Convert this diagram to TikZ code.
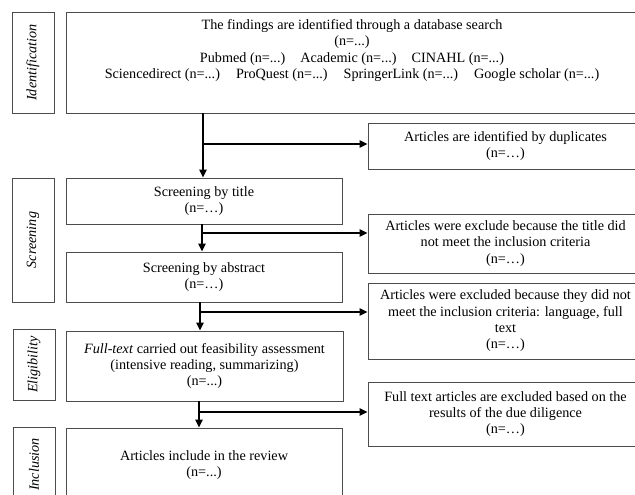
\documentclass[tikz,border=0pt]{standalone}
\usepackage{fontspec}
\setmainfont{Liberation Serif}
\usetikzlibrary{arrows.meta}

\tikzset{boite/.style = {draw = black!70, line width = 0.9pt, rectangle,
                         align = center, inner sep = 0pt,
                         font = \fontsize{14.2}{16.3}\selectfont},
         cote/.style  = {boite, rotate = 90,
                         font = \fontsize{14.2}{16.3}\selectfont\itshape},
         fleche/.style = {line width = 1.5pt, -{Triangle[length=8pt,width=7.5pt]}}
        }

\begin{document}
\begin{tikzpicture}[x=1pt, y=-1pt]
\path[use as bounding box, clip] (0,0) rectangle (635,495);

\node (ident) [cote, minimum width=101, minimum height=42] at (33,62.5) {Identification};
\node (scr)   [cote, minimum width=124, minimum height=42] at (33,240) {Screening};
\node (elig)  [cote, minimum width=71,  minimum height=42] at (34,364.5) {Eligibility};
\node (incl)  [cote, minimum width=75,  minimum height=42] at (34,464.5) {Inclusion};

\node (haut) [boite, minimum width=573, minimum height=101] at (352.5,62.5) {};
\node (recherche) [boite, draw=none] at (352,50.5)
      {The findings are identified through a database search\\
       (n=...)\\
       Pubmed (n=...)\hspace{15pt}Academic (n=...)\hspace{15pt}CINAHL (n=...)\\
       Sciencedirect (n=...)\hspace{16pt}ProQuest (n=...)\hspace{16pt}SpringerLink (n=...)\hspace{16pt}Google scholar (n=...)};
\node (titre)  [boite, minimum width=276, minimum height=46] at (204,201)
      {Screening by title\\(n=…)};
\node (resume) [boite, minimum width=276, minimum height=50] at (204,277)
      {Screening by abstract\\(n=…)};
\node (plein)  [boite, minimum width=277, minimum height=70] at (204.5,366)
      {\textit{Full-text} carried out feasibility assessment\\
       (intensive reading, summarizing)\\(n=...)};
\node (revue)  [boite, minimum width=276, minimum height=74] at (204,465)
      {Articles include in the review\\(n=...)};

\node (doublons) [boite, minimum width=275, minimum height=46] at (505.5,146)
      {Articles are identified by duplicates\\(n=…)};
\node (exclA) [boite, minimum width=275, minimum height=59] at (505.5,243.5)
      {Articles were exclude because the title did\\
       not meet the inclusion criteria\\(n=…)};
\node (exclB) [boite, minimum width=275, minimum height=76] at (505.5,321)
      {Articles were excluded because they did not\\
       meet the inclusion criteria: language, full\\
       text\\(n=…)};
\node (exclC) [boite, minimum width=275, minimum height=64] at (505.5,414)
      {Full text articles are excluded based on the\\
       results of the due diligence\\(n=…)};

\coordinate (b1) at (203,144);
\coordinate (b2) at (202,233);
\coordinate (b3) at (200,312);
\coordinate (b4) at (199,412);

\draw[fleche] (haut.south -| b1) -- (titre.north -| b1);
\draw[fleche] (b1) -- (b1 -| doublons.west);
\draw[fleche] (titre.south -| b2) -- (resume.north -| b2);
\draw[fleche] (b2) -- (b2 -| exclA.west);
\draw[fleche] (resume.south -| b3) -- (plein.north -| b3);
\draw[fleche] (b3) -- (b3 -| exclB.west);
\draw[fleche] (plein.south -| b4) -- (revue.north -| b4);
\draw[fleche] (b4) -- (b4 -| exclC.west);
\end{tikzpicture}
\end{document}
